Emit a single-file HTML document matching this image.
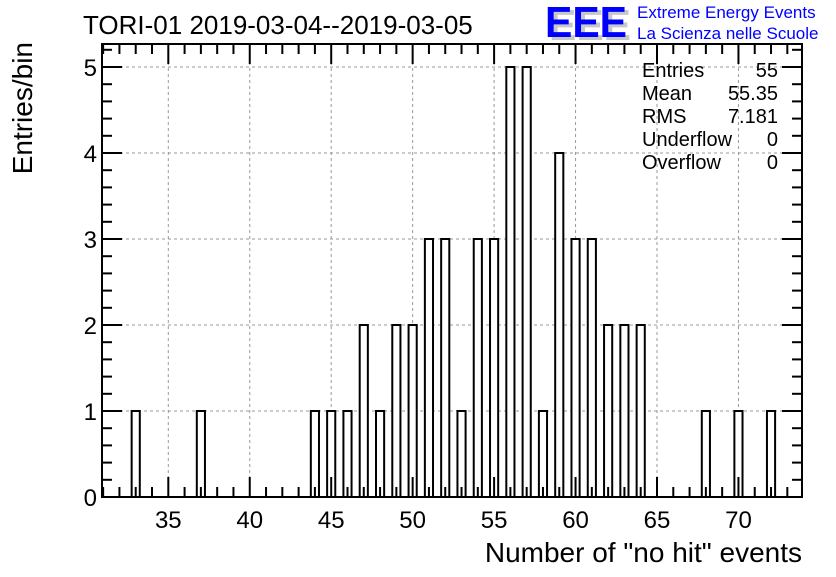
<!DOCTYPE html>
<html><head><meta charset="utf-8"><style>
body{margin:0;background:#fff}
svg text{font-family:"Liberation Sans",sans-serif}
</style></head><body>
<svg id="c" width="836" height="572" xmlns="http://www.w3.org/2000/svg">
<rect width="836" height="572" fill="#fff"/>
<text x="83" y="34" font-size="26">TORI-01 2019-03-04--2019-03-05</text>
<g>
<text x="549" y="40" font-size="44" font-weight="bold" fill="#c8c8c8" textLength="82" lengthAdjust="spacingAndGlyphs">EEE</text>
<text x="545" y="37" font-size="44" font-weight="bold" fill="#0000ff" textLength="82" lengthAdjust="spacingAndGlyphs">EEE</text>
<text x="637" y="18" font-size="17" fill="#0000ff">Extreme Energy Events</text>
<text x="637" y="39" font-size="17" fill="#0000ff">La Scienza nelle Scuole</text>
</g>
<g id="grid"></g><g id="bars"></g><g id="axes"></g>
<g font-size="20">
<text x="642" y="77">Entries</text><text x="778" y="77" text-anchor="end">55</text>
<text x="642" y="100">Mean</text><text x="778" y="100" text-anchor="end">55.35</text>
<text x="642" y="123">RMS</text><text x="778" y="123" text-anchor="end">7.181</text>
<text x="642" y="146">Underflow</text><text x="778" y="146" text-anchor="end">0</text>
<text x="642" y="169">Overflow</text><text x="778" y="169" text-anchor="end">0</text>
</g>
<text x="802" y="562" font-size="28" text-anchor="end">Number of "no hit" events</text>
<text transform="translate(32,42) rotate(-90)" font-size="28" text-anchor="end">Entries/bin</text>
</svg>
<script>
const binCenters=[33,37,44,45,46,47,48,49,50,51,52,53,54,55,56,57,58,59,60,61,62,63,64,68,70,72];
const counts=[1,1,1,1,1,2,1,2,2,3,3,1,3,3,5,5,1,4,3,3,2,2,2,1,1,1];
const xTicks=[35,40,45,50,55,60,65,70];
const yTicks=[0,1,2,3,4,5];
const L=102,R=802,T=44,B=497;
const X=v=>168.3+(v-35)*16.29;
const Y=v=>B-v*86;
const NS='http://www.w3.org/2000/svg';
function mk(p,tag,a){const e=document.createElementNS(NS,tag);for(const k in a)e.setAttribute(k,a[k]);p.appendChild(e);return e;}
const g=document.getElementById('grid'),b=document.getElementById('bars'),ax=document.getElementById('axes');
xTicks.forEach(v=>{const l=mk(g,'line',{x1:X(v),x2:X(v),y1:T,y2:B,stroke:'#999','stroke-dasharray':'3,3'});

});
yTicks.forEach(v=>{if(v===0)return;const l=mk(g,'line',{x1:L,x2:R,y1:Y(v),y2:Y(v),stroke:'#999','stroke-dasharray':'3,3'});

});
binCenters.forEach((c,i)=>{const r=mk(b,'rect',{x:X(c-0.25),y:Y(counts[i]),width:X(c+0.25)-X(c-0.25),height:B-Y(counts[i]),fill:'#fff',stroke:'#000','stroke-width':2});

});
const f=mk(ax,'rect',{x:L,y:T,width:R-L,height:B-T,fill:'none',stroke:'#000','stroke-width':2});


for(let v=31;v<=73;v++){const x=X(v);if(x<L||x>R)continue;const len=v%5===0?20:10;
mk(ax,'line',{x1:x,x2:x,y1:B,y2:B-len,stroke:'#000','stroke-width':2});
mk(ax,'line',{x1:x,x2:x,y1:T,y2:T+len,stroke:'#000','stroke-width':2});}
for(let k=0;k<=26;k++){const v=k*0.2;const y=Y(v);if(y<T)continue;const len=k%5===0?20:10;
mk(ax,'line',{x1:L,x2:L+len,y1:y,y2:y,stroke:'#000','stroke-width':2});
mk(ax,'line',{x1:R,x2:R-len,y1:y,y2:y,stroke:'#000','stroke-width':2});}
xTicks.forEach(v=>{const t=mk(ax,'text',{x:X(v),y:528,'font-size':24,'text-anchor':'middle'});t.textContent=v;

});
yTicks.forEach(v=>{const t=mk(ax,'text',{x:97,y:Y(v)+9,'font-size':24,'text-anchor':'end'});t.textContent=v;

});
</script>
</body></html>
